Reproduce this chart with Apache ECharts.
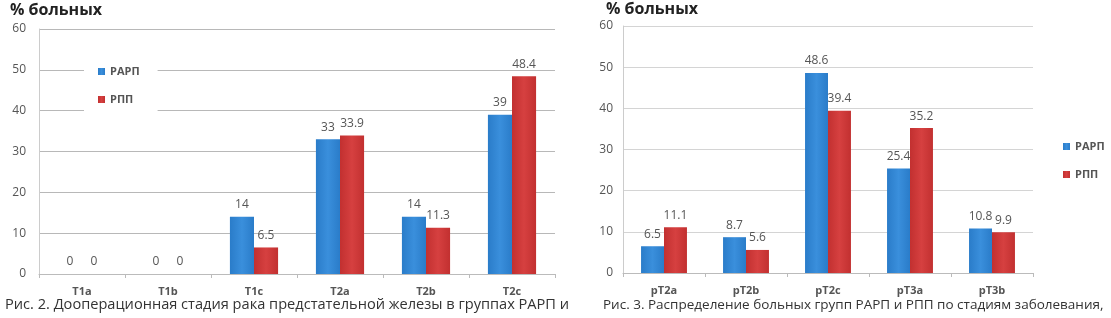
<!DOCTYPE html>
<html>
<head>
<meta charset="utf-8">
<script src="https://cdn.jsdelivr.net/npm/echarts@6/dist/echarts.min.js"></script>
<style>
  html, body { margin: 0; padding: 0; background: #fff; }
  #chart { width: 1111px; height: 318px; }
</style>
</head>
<body>
<div id="chart"></div>
<script>
// Рис. 2 — дооперационная стадия
var stages1 = ['T1a', 'T1b', 'T1c', 'T2a', 'T2b', 'T2c'];
var rarp1 = [0, 0, 14, 33, 14, 39];
var rpp1 = [0, 0, 6.5, 33.9, 11.3, 48.4];

// Рис. 3 — стадии заболевания
var stages2 = ['pT2a', 'pT2b', 'pT2c', 'pT3a', 'pT3b'];
var rarp2 = [6.5, 8.7, 48.6, 25.4, 10.8];
var rpp2 = [11.1, 5.6, 39.4, 35.2, 9.9];

var seriesNames = ['РАРП', 'РПП'];

var FONT = '"Open Sans", "Noto Sans", sans-serif';
var blue = new echarts.graphic.LinearGradient(0, 0, 1, 0, [
  { offset: 0, color: '#2a7cc9' }, { offset: 0.5, color: '#3a8fdc' }, { offset: 1, color: '#2a7cc9' }
]);
var red = new echarts.graphic.LinearGradient(0, 0, 1, 0, [
  { offset: 0, color: '#c23030' }, { offset: 0.5, color: '#d64040' }, { offset: 1, color: '#c23030' }
]);

function bars(name, data, color, idx) {
  return {
    name: name,
    type: 'bar',
    xAxisIndex: idx,
    yAxisIndex: idx,
    data: data,
    barGap: '0%',
    barCategoryGap: '44%',
    itemStyle: { color: color },
    label: {
      show: true,
      position: 'top',
      distance: 6,
      color: '#555',
      fontSize: 12,
      fontFamily: FONT
    }
  };
}

function xAx(idx, cats) {
  return {
    type: 'category',
    gridIndex: idx,
    data: cats,
    axisLine: { lineStyle: { color: '#bbb' } },
    axisTick: { show: true, length: 4, lineStyle: { color: '#bbb' } },
    axisLabel: { color: '#555', fontSize: 11, fontWeight: 'bold', fontFamily: FONT, margin: 12 }
  };
}

function yAx(idx, margin, gridColor) {
  return {
    type: 'value',
    gridIndex: idx,
    min: 0,
    max: 60,
    interval: 10,
    axisLine: { show: true, lineStyle: { color: '#ccc' } },
    axisTick: { show: false },
    splitLine: { lineStyle: { color: gridColor } },
    axisLabel: { color: '#555', fontSize: 12, fontFamily: FONT, margin: margin }
  };
}

var chart = echarts.init(document.getElementById('chart'));
chart.setOption({
  animation: false,
  textStyle: { fontFamily: FONT },
  title: [
    { text: '% больных', left: 10, top: 2, padding: 0,
      textStyle: { fontSize: 16, fontWeight: 'bold', color: '#222', fontFamily: FONT } },
    { text: '% больных', left: 606, top: 1, padding: 0,
      textStyle: { fontSize: 16, fontWeight: 'bold', color: '#222', fontFamily: FONT } }
  ],
  legend: [
    {
      data: seriesNames,
      orient: 'vertical',
      left: 84,
      top: 58,
      padding: [8, 18, 8, 14],
      backgroundColor: '#fff',
      itemWidth: 7,
      itemHeight: 7,
      itemGap: 17,
      icon: 'rect',
      textStyle: { color: '#555', fontSize: 11, fontWeight: 'bold' }
    },
    {
      data: seriesNames,
      orient: 'vertical',
      left: 1058,
      top: 136,
      itemWidth: 7,
      itemHeight: 7,
      itemGap: 17,
      icon: 'rect',
      textStyle: { color: '#555', fontSize: 11, fontWeight: 'bold' }
    }
  ],
  grid: [
    { left: 39, right: 556, top: 29, bottom: 44 },
    { left: 623, right: 78, top: 26, bottom: 45 }
  ],
  xAxis: [xAx(0, stages1), xAx(1, stages2)],
  yAxis: [yAx(0, 13, '#b8b8b8'), yAx(1, 10, '#d4d4d4')],
  series: [
    bars(seriesNames[0], rarp1, blue, 0),
    bars(seriesNames[1], rpp1, red, 0),
    bars(seriesNames[0], rarp2, blue, 1),
    bars(seriesNames[1], rpp2, red, 1)
  ],
  graphic: [
    { type: 'text', left: 5, top: 297,
      style: { text: 'Рис. 2. Дооперационная стадия рака предстательной железы в группах РАРП и',
        fill: '#333', fontSize: 14.6, fontFamily: FONT } },
    { type: 'text', left: 603, top: 298,
      style: { text: 'Рис. 3. Распределение больных групп РАРП и РПП по стадиям заболевания,',
        fill: '#333', fontSize: 13.5, fontFamily: FONT } }
  ]
});
</script>
</body>
</html>
